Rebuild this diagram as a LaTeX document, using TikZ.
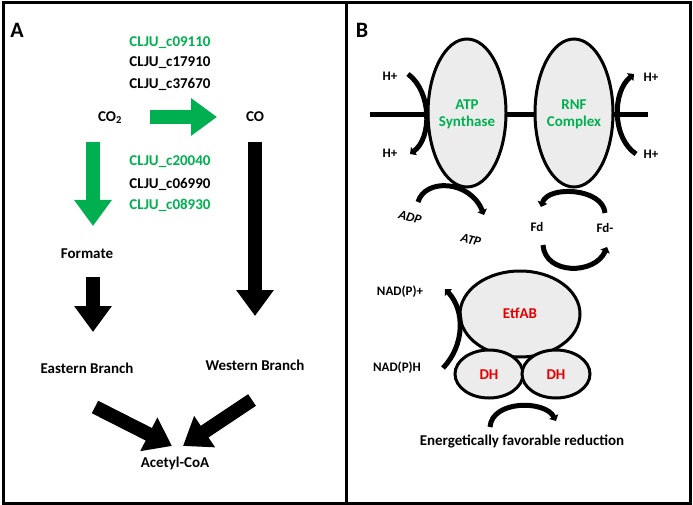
\documentclass[tikz,border=0pt]{standalone}
\usepackage{fontspec}
\setmainfont{Carlito}
\usetikzlibrary{arrows.meta}
\usetikzlibrary{shapes.geometric}
\definecolor{enzgreen}{RGB}{0,176,80}
\definecolor{enzred}{RGB}{230,0,0}
\definecolor{enzfill}{RGB}{236,236,236}
\tikzset{
  lbl/.style={font=\bfseries\fontsize{15}{17}\selectfont},
  sml/.style={font=\bfseries\fontsize{13}{15}\selectfont},
  gene/.style={lbl,text=enzgreen},
  big/.style={line width=14pt,-{Triangle[width=36pt,length=26pt]}},
  turn/.style={line width=5pt,-{Triangle[width=10pt,length=5pt]}},
  prot/.style={draw,line width=3pt,fill=enzfill,ellipse,inner sep=0pt}
}
\begin{document}
\begin{tikzpicture}[x=1pt,y=-1pt]
\useasboundingbox (0,0) rectangle (693,505);
\draw[line width=3pt] (3,3) rectangle (346,503);
\draw[line width=3pt] (346,3) rectangle (690,503);

% panel A
\node[font=\bfseries\fontsize{22}{24}\selectfont] (pa) at (17,30) {A};
\node[gene] (g1) at (170,43) {CLJU\_c09110};
\node[lbl] (g2) at (170,63) {CLJU\_c17910};
\node[lbl] (g3) at (170,84) {CLJU\_c37670};
\node[lbl] (co2) at (110,118) {CO\textsubscript{2}};
\node[lbl] (co) at (255,117) {CO};
\node[gene] (g4) at (170,162) {CLJU\_c20040};
\node[lbl] (g5) at (170,184) {CLJU\_c06990};
\node[gene] (g6) at (170,205) {CLJU\_c08930};
\node[lbl] (form) at (87,254) {Formate};
\node[lbl] (east) at (87,368) {Eastern Branch};
\node[lbl] (west) at (255,365) {Western Branch};
\node[lbl] (acoa) at (175,463) {Acetyl-CoA};

\coordinate (h1) at (150,117);
\coordinate (h2) at (217,117);
\coordinate (v1) at (93,142);
\coordinate (v2) at (93,226);
\coordinate (w1) at (255,142);
\coordinate (w2) at (255,316);
\coordinate (f1) at (93,277);
\coordinate (f2) at (93,332);
\coordinate (e1) at (95,407);
\coordinate (e2) at (172,446);
\coordinate (r1) at (252,400);
\coordinate (r2) at (183,446);
\draw[big,enzgreen] (h1) -- (h2);
\draw[big,enzgreen] (v1) -- (v2);
\draw[big] (w1) -- (w2);
\draw[big] (f1) -- (f2);
\draw[big] (e1) -- (e2);
\draw[big] (r1) -- (r2);

% panel B
\node[font=\bfseries\fontsize{22}{24}\selectfont] (pb) at (362,30) {B};
\coordinate (m1) at (370,115);
\coordinate (m2) at (648,115);
\draw[line width=5pt] (m1) -- (m2);
\node[prot,minimum width=78pt,minimum height=148pt] (atp) at (467,113) {};
\node[prot,minimum width=78pt,minimum height=148pt] (rnf) at (574,113) {};
\node[gene,align=center] (atpt) at (467,114) {ATP\\Synthase};
\node[gene,align=center] (rnft) at (574,114) {RNF\\Complex};
\node[prot,minimum width=120pt,minimum height=86pt] (etf) at (520,314) {};
\node[prot,minimum width=68pt,minimum height=48pt] (dh1) at (489,374) {};
\node[prot,minimum width=68pt,minimum height=48pt] (dh2) at (556,374) {};
\node[lbl,text=enzred] (etft) at (520,313) {EtfAB};
\node[lbl,text=enzred] (dh1t) at (489,375) {DH};
\node[lbl,text=enzred] (dh2t) at (556,375) {DH};

\node[sml] (hl1) at (390,76) {H+};
\node[sml] (hl2) at (390,153) {H+};
\node[sml] (hr1) at (651,77) {H+};
\node[sml] (hr2) at (651,154) {H+};
\node[sml,font=\bfseries\itshape\fontsize{13}{15}\selectfont,rotate=-15] (adp) at (410,217) {ADP};
\node[sml,font=\bfseries\itshape\fontsize{13}{15}\selectfont,rotate=-15] (atpo) at (471,240) {ATP};
\node[sml] (fd) at (537,227) {Fd};
\node[sml] (fdm) at (605,228) {Fd-};
\node[sml] (nadp) at (400,292) {NAD(P)+};
\node[sml] (nadh) at (397,368) {NAD(P)H};
\node[lbl] (red) at (522,441) {Energetically favorable reduction};

\coordinate (a1) at (408,74);
\coordinate (a2) at (410,154);
\coordinate (b1) at (636,154);
\coordinate (b2) at (634,74);
\coordinate (c1) at (418,202);
\coordinate (c2) at (484,215);
\coordinate (d1) at (605,213);
\coordinate (d2) at (541,207);
\coordinate (k1) at (543,245);
\coordinate (k2) at (607,247);
\coordinate (n1) at (443,368);
\coordinate (n2) at (445,289);
\coordinate (q1) at (490,427);
\coordinate (q2) at (556,421);
\draw[turn] (a1) .. controls (432,92) and (432,138) .. (a2);
\draw[turn] (b1) .. controls (612,138) and (612,92) .. (b2);
\draw[turn] (c1) .. controls (425,178) and (470,180) .. (c2);
\draw[turn] (d1) .. controls (603,188) and (548,185) .. (d2);
\draw[turn] (k1) .. controls (545,275) and (595,275) .. (k2);
\draw[turn] (n1) .. controls (465,345) and (465,310) .. (n2);
\draw[turn] (q1) .. controls (492,400) and (545,400) .. (q2);
\end{tikzpicture}
\end{document}
